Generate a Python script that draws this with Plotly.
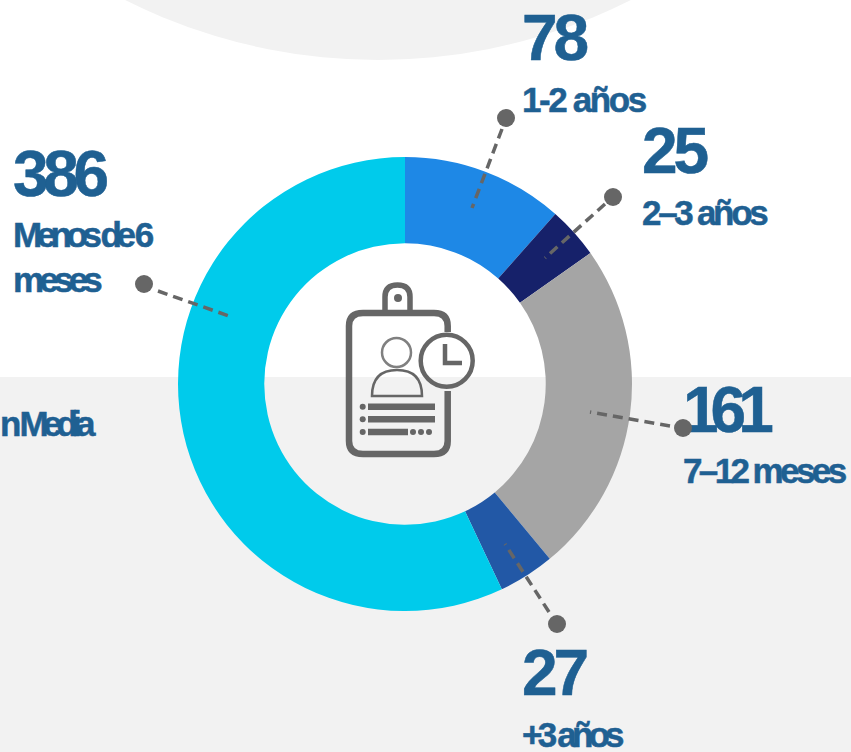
import json
import plotly.graph_objects as go

# ---- data ----
categories = ["1-2 años", "2–3 años", "7–12 meses", "+3 años", "Menos de 6 meses"]
values = [78, 25, 161, 27, 386]
colors = ["#1E88E6", "#16216A", "#A5A5A5", "#2258A6", "#00CBEB"]

number_labels = ["78", "25", "161", "27", "386"]
number_x = [522, 642, 683, 522, 13]
number_y = [44, 157, 416, 679, 180]

text_labels = ["1-2 años", "2–3 años", "7–12 meses", "+3 años", "Menos de 6", "meses", "n Media"]
text_x = [522, 642, 683, 522, 13, 13, 0]
text_y = [103, 216, 474, 738, 238, 283, 427]

# letter spacing per text (px)
spacing = {"78": -4.0, "25": -4.0, "161": -8.0, "27": -4.0, "386": -5.4,
           "1-2 años": -2.4, "2–3 años": -3.3, "7–12 meses": -3.6, "+3 años": -4.8,
           "Menos de 6": -5.5, "meses": -4.8, "n Media": -5.8}

W, H = 851, 752
TEXT = "#1F6092"
GREY = "#666666"
BAND = "#F2F2F2"

# leader lines: dot, then far end inside the ring
leaders = [((144, 284), (158, 291), (229, 316)),
           ((506, 118), (502, 129), (472, 208)),
           ((613, 197), (605, 204), (545, 258)),
           ((683, 428), (670, 426), (590, 412)),
           ((557, 624), (549, 612), (505, 544))]

fig = go.Figure()
fig.add_trace(go.Pie(
    labels=categories, values=values, sort=False, direction="clockwise", rotation=0,
    hole=0.62, marker=dict(colors=colors, line=dict(width=0)),
    textinfo="none", hoverinfo="skip", showlegend=False,
    domain=dict(x=[178 / W, 632 / W], y=[1 - 611 / H, 1 - 157 / H]),
))
fig.add_trace(go.Scatter(x=number_x, y=number_y, text=number_labels, mode="text",
                         textposition="middle right", cliponaxis=False, hoverinfo="skip",
                         showlegend=False,
                         textfont=dict(family="Liberation Sans", size=64, color=TEXT, weight=700)))
fig.add_trace(go.Scatter(x=text_x, y=text_y, text=text_labels, mode="text",
                         textposition="middle right", cliponaxis=False, hoverinfo="skip",
                         showlegend=False,
                         textfont=dict(family="Liberation Sans", size=35, color=TEXT, weight=700)))

shapes = [
    dict(type="rect", x0=0, x1=W, y0=377, y1=H, fillcolor=BAND, line_width=0, layer="below"),
    dict(type="circle", x0=378 - 563, x1=378 + 563, y0=60 - 2 * 563, y1=60,
         fillcolor=BAND, line_width=0, layer="below"),
]
for dot, a, b in leaders:
    shapes.append(dict(type="line", x0=a[0], y0=a[1], x1=b[0], y1=b[1], layer="above",
                       line=dict(color=GREY, width=3.5, dash="10px,6px")))
    shapes.append(dict(type="circle", x0=dot[0] - 9, x1=dot[0] + 9, y0=dot[1] - 9, y1=dot[1] + 9,
                       fillcolor=GREY, line_width=0, layer="above"))

def icon_path(d, width, fill=None):
    shapes.append(dict(type="path", path=d, layer="above",
                       line=dict(color=GREY, width=width),
                       fillcolor=fill or "rgba(0,0,0,0)"))

def icon_dot(x, y, r):
    shapes.append(dict(type="circle", x0=x - r, x1=x + r, y0=y - r, y1=y + r,
                       fillcolor=GREY, line_width=0, layer="above"))

# badge body, open where the clock sits
icon_path("M 447.7 332 L 447.7 326 Q 447.7 313 434 313 L 363 313 Q 349 313 349 326 "
          "L 349 441 Q 349 454 363 454 L 434 454 Q 447.7 454 447.7 441 L 447.7 391", 6.5)
# clip tab
icon_path("M 385 311 L 385 297 Q 385 285 397.5 285 Q 410 285 410 297 L 410 311", 5.5)
icon_dot(398, 298, 4)
# clock
c = (446.7, 360.7)
shapes.append(dict(type="circle", x0=c[0] - 26, x1=c[0] + 26, y0=c[1] - 26, y1=c[1] + 26,
                   line=dict(color=GREY, width=4.5), layer="above"))
icon_path("M 445 344 L 445 363 L 462 363", 4.5)
# person
shapes.append(dict(type="circle", x0=382, x1=411, y0=338, y1=367,
                   line=dict(color="#808080", width=2.5), layer="above"))
icon_path("M 372 396 Q 372 370 397 370 Q 422 370 422 396 Z", 2.5)
# text rows
for y, x1 in ((406.7, 435), (419.3, 435), (432, 408)):
    icon_dot(362.7, y, 3)
    icon_path(f"M 368 {y} L {x1} {y}", 6.5)
for x in (413, 421, 429):
    icon_dot(x, 432, 3)

fig.update_layout(
    width=W, height=H, margin=dict(l=0, r=0, t=0, b=0, pad=0), autosize=False,
    paper_bgcolor="white", plot_bgcolor="rgba(0,0,0,0)", shapes=shapes,
    xaxis=dict(range=[0, W], visible=False, domain=[0, 1], fixedrange=True),
    yaxis=dict(range=[H, 0], visible=False, domain=[0, 1], fixedrange=True),
)

post = """
document.documentElement.style.margin = '0';
document.documentElement.style.overflow = 'hidden';
document.body.style.margin = '0';
document.body.style.overflow = 'hidden';
var sp = %s;
document.querySelectorAll('.textpoint text').forEach(function(t){
  var s = sp[t.textContent];
  if (s !== undefined) t.style.letterSpacing = s + 'px';
  t.style.stroke = '%s';
  t.style.strokeWidth = '0.5px';
});
""" % (json.dumps(spacing, ensure_ascii=False), TEXT)

fig.write_html("out.html", post_script=post, config={"displayModeBar": False})
